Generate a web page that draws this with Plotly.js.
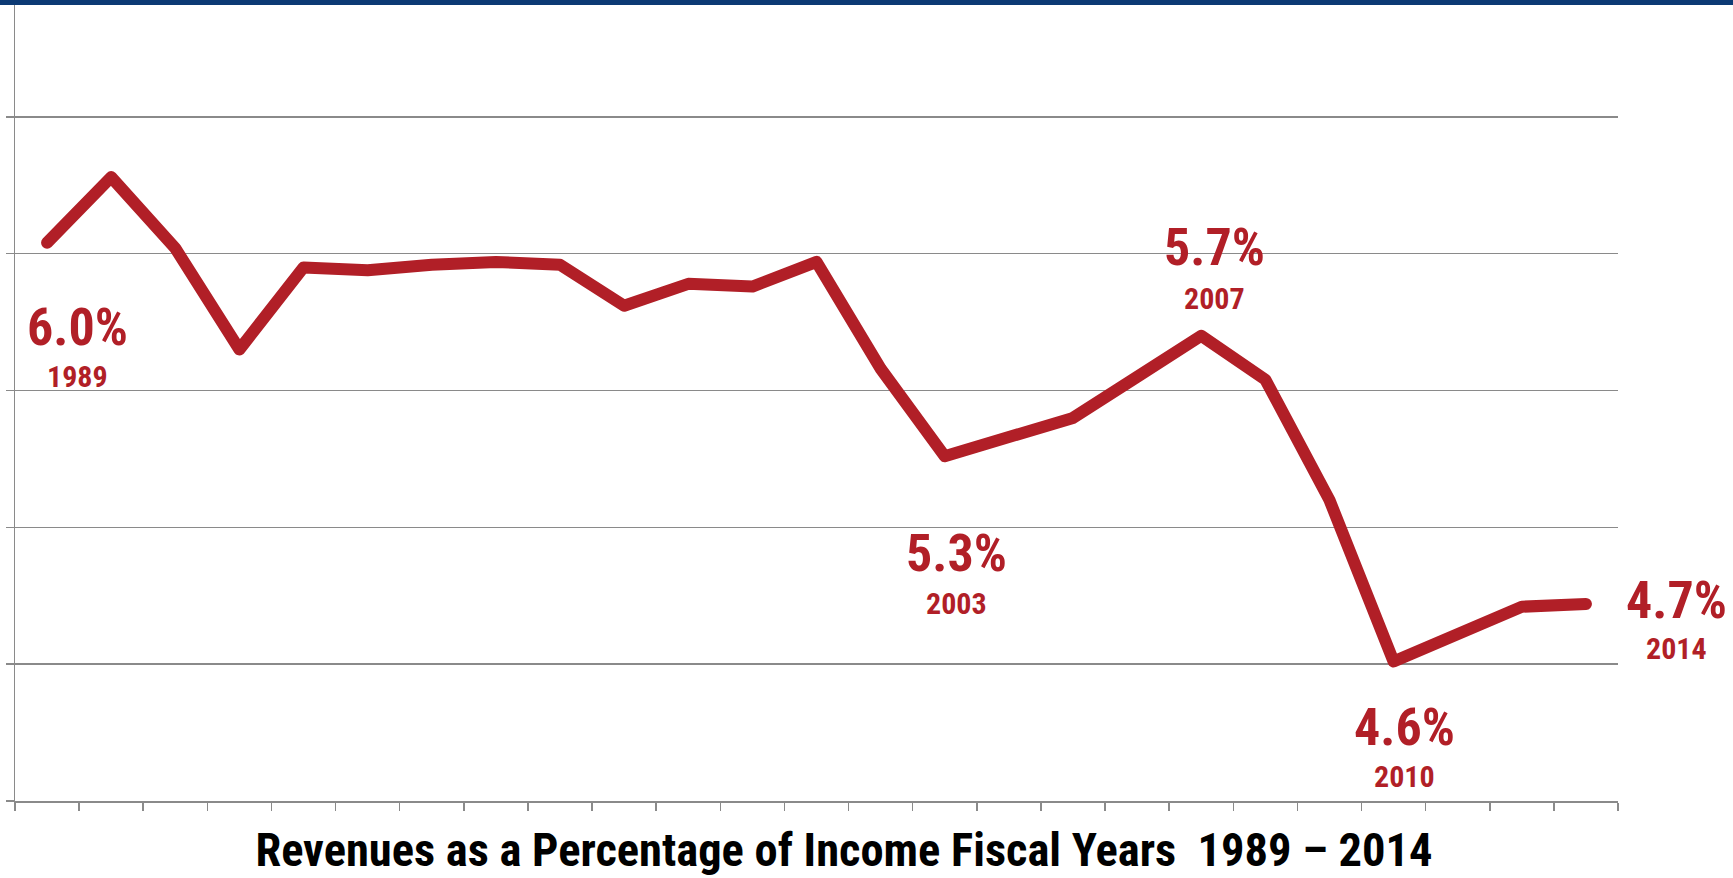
<!DOCTYPE html>
<html>
<head>
<meta charset="utf-8">
<script src="https://cdn.plot.ly/plotly-3.0.1.min.js"></script>
<style>
  html, body { margin: 0; padding: 0; background: #ffffff; }
  #wrap { position: relative; width: 1733px; height: 878px; overflow: hidden; }
  #topbar { position: absolute; left: 0; top: 0; width: 1733px; height: 5px; background: #0c3a74; z-index: 5; }
  #chart { position: absolute; left: 0; top: 0; width: 1733px; height: 878px; }
  path.js-line { stroke-linejoin: round !important; stroke-linecap: round !important; }
</style>
</head>
<body>
<div id="wrap">
  <div id="chart"></div>
  <div id="topbar"></div>
</div>
<script>
// ---- Data ----
const years = ['1989','1990','1991','1992','1993','1994','1995','1996','1997','1998',
               '1999','2000','2001','2002','2003','2004','2005','2006','2007','2008',
               '2009','2010','2012','2013','2014'];
const revenuePct = [6.04, 6.28, 6.02, 5.65, 5.95, 5.94, 5.96, 5.97, 5.96, 5.81,
                    5.89, 5.88, 5.97, 5.58, 5.26, 5.33, 5.40, 5.55, 5.70, 5.54,
                    5.10, 4.51, 4.61, 4.71, 4.72];
const labelYears  = ['1989', '2003', '2007', '2010', '2014'];
const labelValues = ['6.0%', '5.3%', '5.7%', '4.6%', '4.7%'];
const chartTitle = 'Revenues as a Percentage of Income Fiscal Years\u00a0\u00a01989 \u2013 2014';

// ---- Styling ----
const RED = '#b11f27';
const GRID = '#8a8a8a';
const FONT = '"Roboto Condensed", "Liberation Sans Narrow", "Arial Narrow", sans-serif';

// label offsets (pixels) relative to the labelled point: [xshift, yshift for value, yshift for year]
const labelOffsets = [
  [30, -85, -134],
  [12, -97, -147],
  [13,  88,   37],
  [11, -66, -115],
  [91,   3,  -45]
];

const annotations = [];
labelYears.forEach((yr, i) => {
  const idx = years.indexOf(yr);
  const off = labelOffsets[i];
  annotations.push({
    x: idx, y: revenuePct[idx], xref: 'x', yref: 'y',
    text: labelValues[i], showarrow: false,
    xshift: off[0], yshift: off[1], xanchor: 'center', yanchor: 'middle',
    font: { family: FONT, size: 52, color: RED, weight: 'bold' }
  });
  annotations.push({
    x: idx, y: revenuePct[idx], xref: 'x', yref: 'y',
    text: yr, showarrow: false,
    xshift: off[0], yshift: off[2], xanchor: 'center', yanchor: 'middle',
    font: { family: FONT, size: 30, color: RED, weight: 'bold' }
  });
});

const trace = {
  type: 'scatter', mode: 'lines',
  x: years, y: revenuePct,
  line: { color: RED, width: 12, shape: 'linear' },
  hoverinfo: 'skip', cliponaxis: false
};

const layout = {
  width: 1733, height: 878,
  margin: { l: 15, r: 115, t: 5, b: 77, pad: 0 },
  paper_bgcolor: '#ffffff', plot_bgcolor: '#ffffff',
  showlegend: false,
  title: {
    text: chartTitle,
    font: { family: FONT, size: 46.5, color: '#000000', weight: 'bold' },
    xref: 'container', yref: 'container',
    x: 0.487, xanchor: 'center', y: 0.0325, yanchor: 'middle'
  },
  xaxis: {
    type: 'category', range: [-0.5, years.length - 0.5],
    showgrid: false, zeroline: false,
    showline: true, linecolor: GRID, linewidth: 1.5,
    ticks: 'outside', tickson: 'boundaries', ticklen: 8, tickcolor: GRID, tickwidth: 1.5,
    showticklabels: false, fixedrange: true
  },
  yaxis: {
    range: [4.0, 6.909], tick0: 4.0, dtick: 0.5,
    showgrid: true, gridcolor: GRID, gridwidth: 1.5, zeroline: false,
    showline: true, linecolor: GRID, linewidth: 1.5,
    ticks: 'outside', ticklen: 8, tickcolor: GRID, tickwidth: 1.5,
    showticklabels: false, fixedrange: true
  },
  annotations: annotations
};

Plotly.newPlot('chart', [trace], layout, { staticPlot: true, displayModeBar: false });
</script>
</body>
</html>
